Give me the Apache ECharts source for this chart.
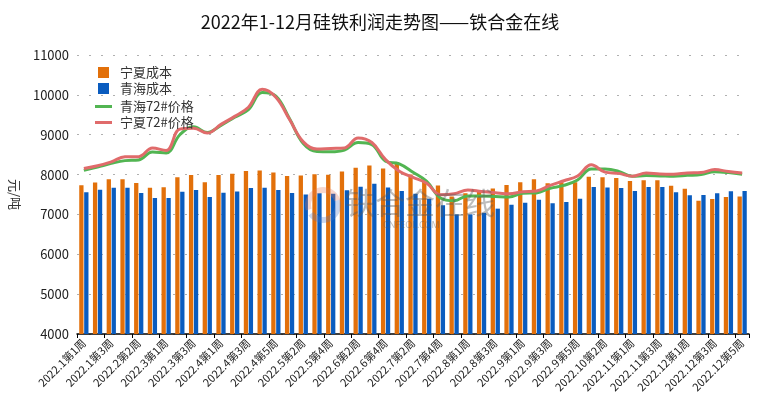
<!DOCTYPE html>
<html>
<head>
<meta charset="utf-8">
<script src="https://cdn.jsdelivr.net/npm/echarts@6/dist/echarts.min.js"></script>
<style>
html,body{margin:0;padding:0;background:#fff;}
#chart{width:760px;height:410px;}
</style>
</head>
<body>
<div id="chart"></div>
<script>
var categories = [
  '2022.1第1周','2022.1第2周','2022.1第3周','2022.1第4周','2022.2第2周','2022.2第3周',
  '2022.3第1周','2022.3第2周','2022.3第3周','2022.3第4周',
  '2022.4第1周','2022.4第2周','2022.4第3周','2022.4第4周','2022.4第5周',
  '2022.5第1周','2022.5第2周','2022.5第3周','2022.5第4周',
  '2022.6第1周','2022.6第2周','2022.6第3周','2022.6第4周',
  '2022.7第1周','2022.7第2周','2022.7第3周','2022.7第4周','2022.7第5周',
  '2022.8第1周','2022.8第2周','2022.8第3周','2022.8第4周',
  '2022.9第1周','2022.9第2周','2022.9第3周','2022.9第4周','2022.9第5周',
  '2022.10第1周','2022.10第2周','2022.10第3周',
  '2022.11第1周','2022.11第2周','2022.11第3周','2022.11第4周',
  '2022.12第1周','2022.12第2周','2022.12第3周','2022.12第4周','2022.12第5周'
];
var ningxiaCost = [
  7730,7800,7880,7880,7790,7670,7680,7935,7990,7805,
  7990,8020,8090,8105,8055,7965,7975,8005,7995,8080,
  8170,8230,8150,8310,8000,7870,7725,7450,7530,7560,
  7650,7740,7810,7880,7785,7810,7805,7945,7930,7915,
  7840,7860,7858,7720,7645,7345,7390,7440,7450
];
var qinghaiCost = [
  7555,7620,7670,7670,7535,7410,7410,7570,7610,7435,
  7545,7578,7662,7670,7616,7536,7500,7530,7520,7605,
  7695,7770,7678,7590,7516,7395,7228,7002,7002,7040,
  7145,7240,7295,7370,7278,7310,7395,7687,7678,7662,
  7587,7690,7690,7557,7482,7490,7532,7583,7587
];
var qinghaiPrice = [
  8105,8190,8280,8350,8367,8565,8540,9000,9200,9055,
  9235,9440,9630,10060,9970,9400,8780,8580,8572,8615,
  8805,8752,8334,8270,8060,7830,7415,7345,7465,7465,
  7450,7437,7530,7540,7658,7728,7865,8138,8138,8080,
  7955,7975,7967,7958,7980,8000,8070,8050,8010
];
var ningxiaPrice = [
  8150,8220,8320,8445,8450,8665,8605,9140,9160,9040,
  9260,9460,9690,10140,9940,9380,8820,8640,8655,8668,
  8920,8805,8375,8085,7930,7780,7495,7520,7612,7575,
  7545,7520,7570,7590,7728,7845,7965,8245,8062,8030,
  7958,8038,8015,8010,8040,8050,8125,8075,8040
];

var FONT = '"Noto Sans CJK SC", "Noto Sans", sans-serif';
var chart = echarts.init(document.getElementById('chart'));
chart.setOption({
  animation: false,
  textStyle: {fontFamily: FONT},
  title: {
    text: '2022年1-12月硅铁利润走势图——铁合金在线',
    left: 'center', top: 8,
    textStyle: {fontFamily: FONT, fontSize: 18, fontWeight: 'normal', color: '#111'}
  },
  legend: [{
    data: ['宁夏成本','青海成本'],
    orient: 'vertical', left: 93, top: 61,
    itemWidth: 11, itemHeight: 11, itemGap: 3, icon: 'rect',
    textStyle: {fontFamily: FONT, fontSize: 13, color: '#333', padding: [0, 0, 0, 6]}
  },{
    data: ['青海72#价格','宁夏72#价格'],
    orient: 'vertical', left: 90, top: 95,
    itemWidth: 17, itemHeight: 3, itemGap: 3, icon: 'rect',
    textStyle: {fontFamily: FONT, fontSize: 13, color: '#333', padding: [0, 0, 0, 3]}
  }],
  grid: {left: 72, right: 11, top: 55, bottom: 76},
  xAxis: {
    type: 'category',
    data: categories,
    boundaryGap: true,
    axisLine: {lineStyle: {color: '#000', width: 1.5}},
    axisTick: {show: true, interval: 1, length: 4, lineStyle: {color: '#000'}},
    axisLabel: {interval: 1, rotate: 45, fontSize: 11, color: '#222', margin: 7, fontFamily: FONT}
  },
  yAxis: {
    type: 'value',
    min: 4000, max: 11000, interval: 1000,
    name: '元/吨', nameLocation: 'middle', nameRotate: -90, nameGap: 56,
    nameTextStyle: {fontSize: 13, color: '#333', fontFamily: FONT},
    axisLine: {show: false},
    axisTick: {show: false},
    axisLabel: {fontSize: 13, color: '#222', margin: 8, fontFamily: FONT, formatter: function (v) { return String(v); }},
    splitLine: {lineStyle: {color: '#b0b0b0', type: [2, 10], width: 1.2}}
  },
  graphic: [
    {type: 'arc', shape: {cx: 323, cy: 205, r: 15, startAngle: Math.PI*0.9, endAngle: Math.PI*1.9}, style: {stroke: 'rgba(230,120,90,0.3)', lineWidth: 6, fill: null}, z: 50},
    {type: 'arc', shape: {cx: 323, cy: 205, r: 15, startAngle: Math.PI*-0.1, endAngle: Math.PI*0.8}, style: {stroke: 'rgba(80,120,200,0.3)', lineWidth: 6, fill: null}, z: 50},
    {type: 'text', left: 345, top: 188, style: {text: '铁合金在线', font: '30px "Noto Sans CJK SC"', fill: 'rgba(90,90,90,0.4)'}, z: 50},
    {type: 'text', left: 383, top: 221, style: {text: 'CNFEOL.COM', font: '9px "Noto Sans"', fill: 'rgba(90,90,90,0.4)'}, z: 50}
  ],
  series: [
    {name: '宁夏成本', type: 'bar', data: ningxiaCost, barWidth: 4.3, barGap: '15%', itemStyle: {color: '#E2700A'}},
    {name: '青海成本', type: 'bar', data: qinghaiCost, barWidth: 4.3, itemStyle: {color: '#0A5CBF'}},
    {name: '青海72#价格', type: 'line', data: qinghaiPrice, smooth: 0.4, symbol: 'none', lineStyle: {color: '#52B552', width: 3}, itemStyle: {color: '#52B552'}},
    {name: '宁夏72#价格', type: 'line', data: ningxiaPrice, smooth: 0.4, symbol: 'none', lineStyle: {color: '#E06B6B', width: 3}, itemStyle: {color: '#E06B6B'}}
  ]
});
</script>
</body>
</html>
